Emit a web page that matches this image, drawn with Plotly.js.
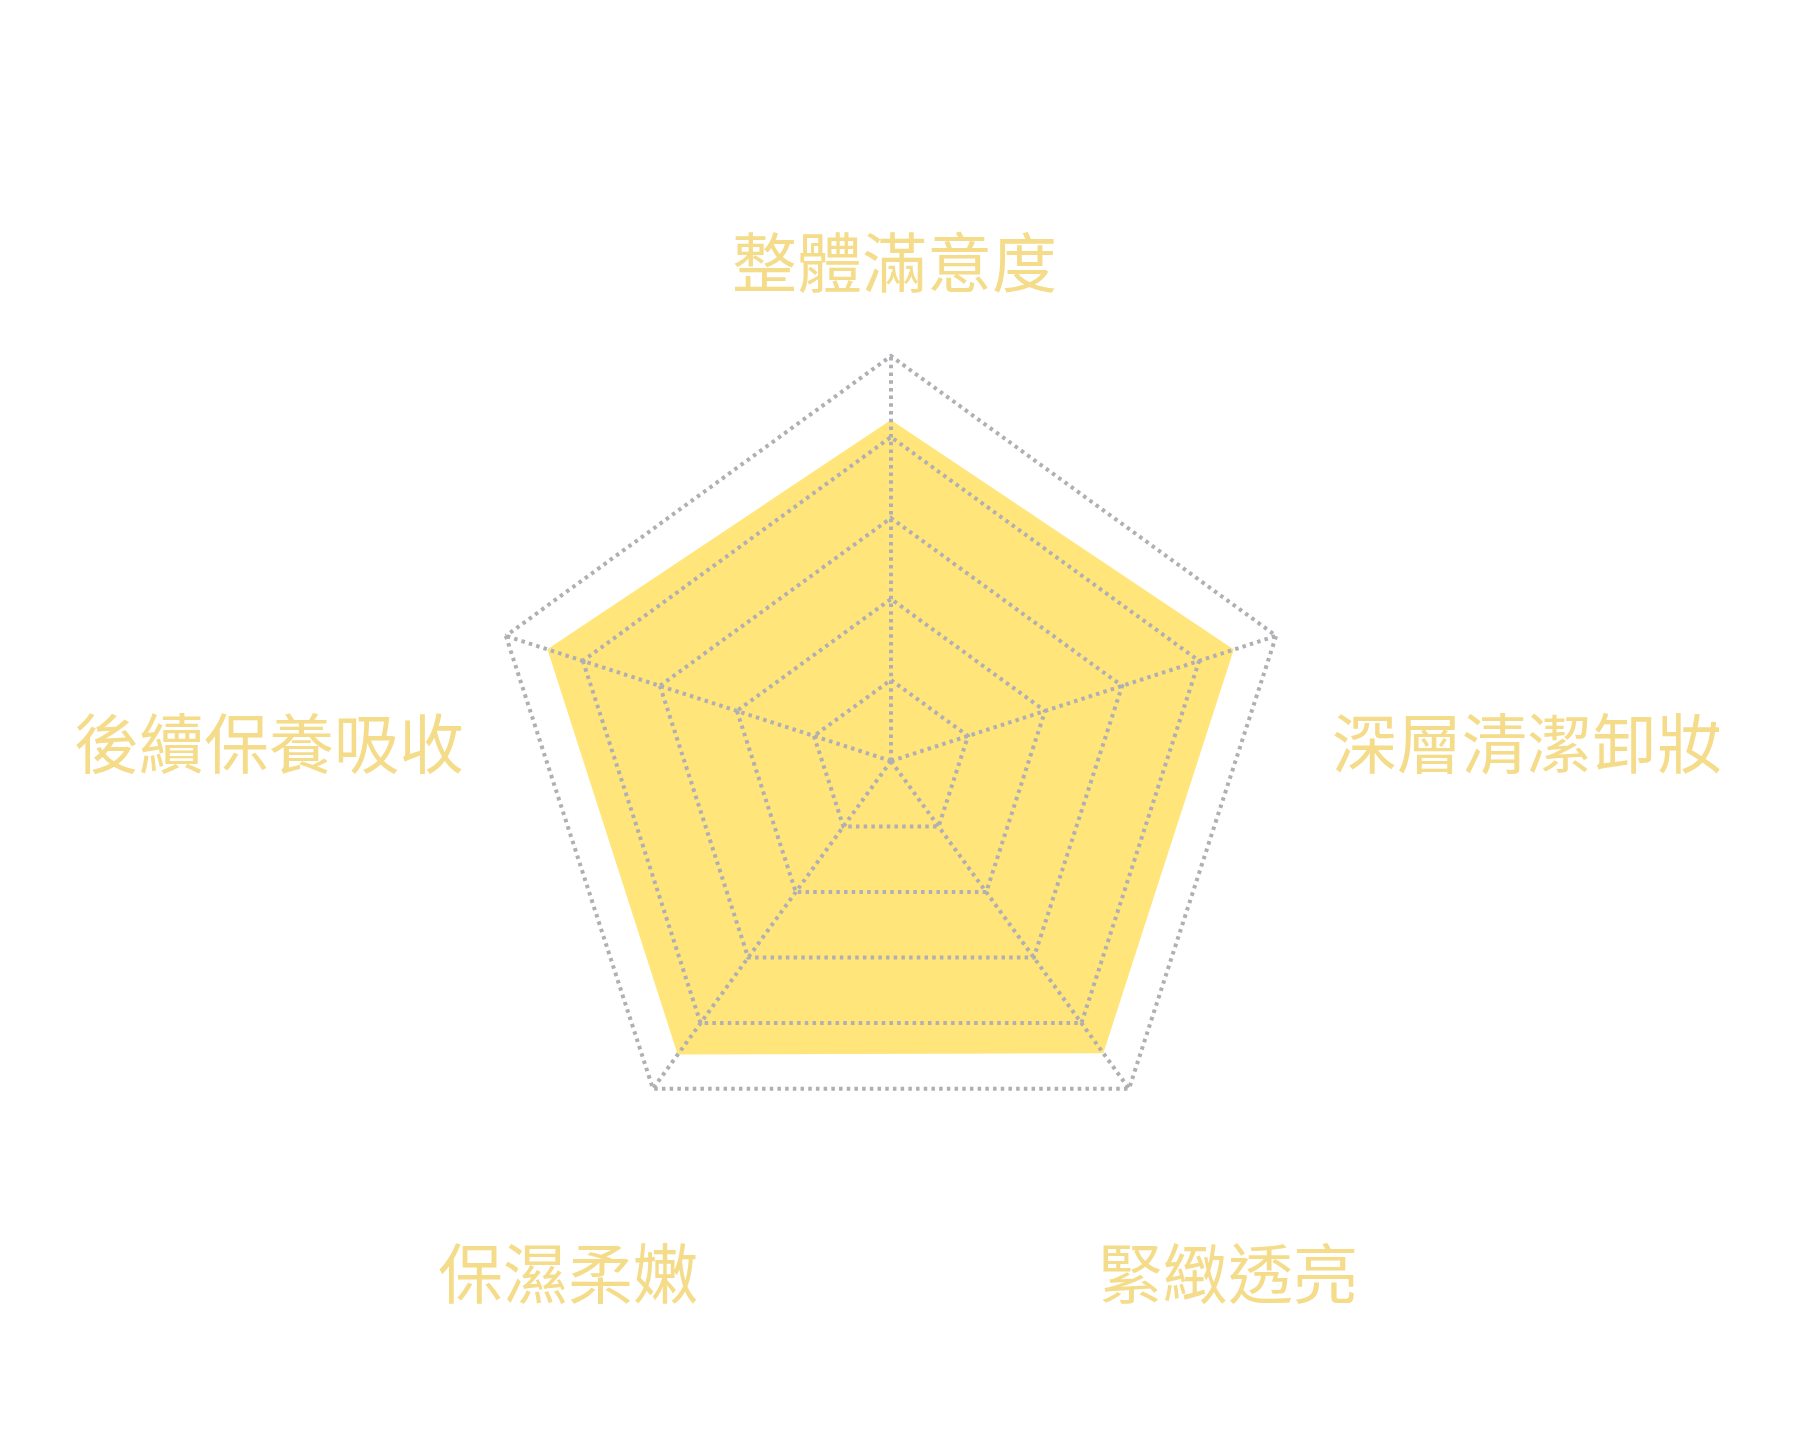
<!DOCTYPE html>
<html>
<head>
<meta charset="utf-8">
<script src="https://cdn.plot.ly/plotly-3.0.1.min.js"></script>
<style>
  html, body { margin: 0; padding: 0; background: #ffffff; }
  #chart { width: 1799px; height: 1436px; }
</style>
</head>
<body>
<div id="chart"></div>
<script>
// categories, clockwise from the top
const categories = ['整體滿意度', '深層清潔卸妝', '緊緻透亮', '保濕柔嫩', '後續保養吸收'];
const scores = [4.21, 4.45, 4.46, 4.48, 4.46];
const gridTicks = [1, 2, 3, 4, 5];

// label anchor points (paper px, from top-left)
const labelX = [894, 1527, 1228, 568, 269];
const labelY = [259, 740, 1270, 1270, 740];

const W = 1799, H = 1436;
const rMax = 5.03;              // a little headroom so the ring at 5 gets drawn
const cx = 891, cy = 761;
const R = 405 * rMax / 5;       // keeps the ring at 5 at 405px

const domain = {
    x: [(cx - R) / W, (cx + R) / W],
    y: [(H - cy - R) / H, (H - cy + R) / H]
};

// close the polygon
const theta = categories.concat(categories[0]);
const r = scores.concat(scores[0]);

const data = [
    {
        type: 'scatterpolar',
        subplot: 'polar',
        r: r,
        theta: theta,
        mode: 'lines',
        fill: 'toself',
        fillcolor: '#ffe57a',
        line: { color: '#ffe57a', width: 0 },
        hoverinfo: 'skip'
    },
    {
        // empty trace so the grid subplot sits on top of the fill
        type: 'scatterpolar',
        subplot: 'polar2',
        r: r,
        theta: theta,
        mode: 'lines',
        line: { color: 'rgba(0,0,0,0)', width: 0 },
        hoverinfo: 'skip'
    }
];

function polarAxes(showGrid) {
    return {
        domain: domain,
        bgcolor: 'rgba(0,0,0,0)',
        gridshape: 'linear',
        radialaxis: {
            range: [0, rMax],
            tickvals: gridTicks,
            showticklabels: false,
            ticks: '',
            showline: false,
            showgrid: showGrid,
            gridcolor: '#b0b0b4',
            gridwidth: 4,
            griddash: '3.5px,4.2px'
        },
        angularaxis: {
            type: 'category',
            categoryarray: categories,
            direction: 'clockwise',
            rotation: 90,
            showticklabels: false,
            ticks: '',
            showline: false,
            showgrid: showGrid,
            gridcolor: '#b0b0b4',
            gridwidth: 4,
            griddash: '3.5px,4.2px'
        }
    };
}

const layout = {
    width: W,
    height: H,
    margin: { t: 0, r: 0, b: 0, l: 0 },
    paper_bgcolor: '#ffffff',
    showlegend: false,
    font: { family: '"Noto Sans CJK TC", "Noto Sans", sans-serif' },
    polar: polarAxes(false),
    polar2: polarAxes(true),
    annotations: categories.map((c, i) => ({
        xref: 'paper', yref: 'paper',
        x: labelX[i] / W,
        y: 1 - labelY[i] / H,
        xanchor: 'center', yanchor: 'middle',
        text: c,
        showarrow: false,
        font: { size: 65, color: '#f5dc8a', family: '"Noto Sans CJK TC", sans-serif' }
    }))
};

Plotly.newPlot('chart', data, layout, { displayModeBar: false, staticPlot: true });
</script>
</body>
</html>
